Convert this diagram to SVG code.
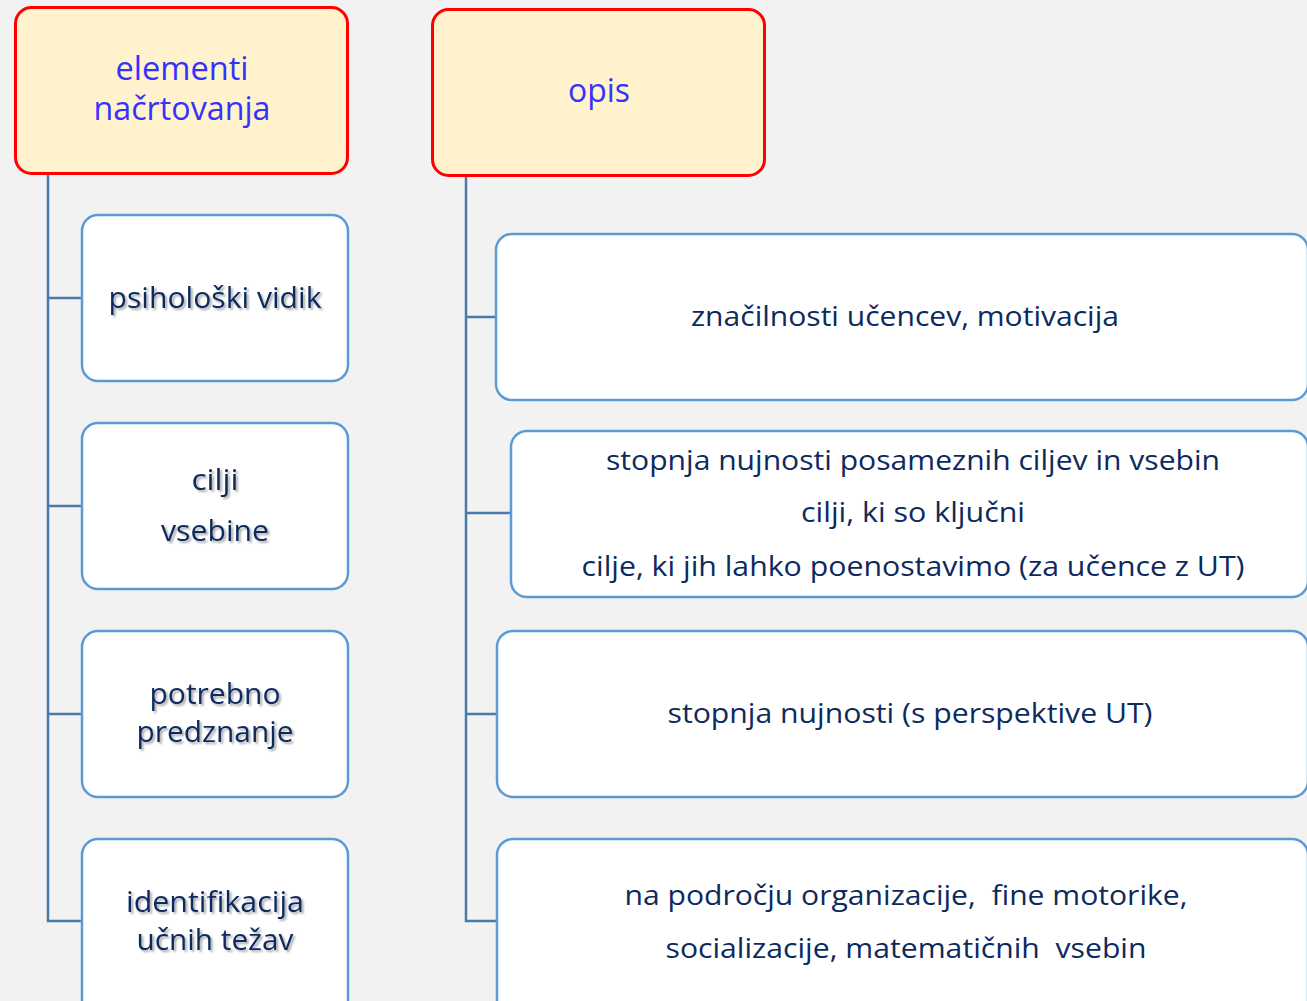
<svg xmlns="http://www.w3.org/2000/svg" width="1307" height="1001" viewBox="0 0 1307 1001">
<defs>
<style>
.hdr{fill:#fff2cc;stroke:#ff0000;stroke-width:3}
.box{fill:#ffffff;stroke:#5b9bd5;stroke-width:2.5}
.conn{fill:none;stroke:#4a7aab;stroke-width:2.5}
.ht{font-family:"Open Sans","Noto Sans",sans-serif;font-size:32px;fill:#3333ff;text-anchor:middle}
.lt{font-family:"Open Sans","Noto Sans",sans-serif;font-size:29px;fill:#0d2a5e;text-anchor:middle;filter:url(#sh)}
.rt{font-family:"Open Sans","Noto Sans",sans-serif;font-size:28px;fill:#0d2a5e;text-anchor:middle}
</style>
<filter id="sh" x="-10%" y="-30%" width="120%" height="160%">
<feGaussianBlur in="SourceAlpha" stdDeviation="1.2"/>
<feOffset dx="2" dy="2" result="b"/>
<feComponentTransfer><feFuncA type="linear" slope="0.35"/></feComponentTransfer>
<feMerge><feMergeNode/><feMergeNode in="SourceGraphic"/></feMerge>
</filter>
</defs>
<rect width="1307" height="1001" fill="#f2f2f2"/>
<g id="connectors">
<path class="conn" d="M48,173 V921 H82 M48,298 H82 M48,506 H82 M48,714 H82"/>
<path class="conn" d="M466,175 V921 H497 M466,317 H496 M466,513 H511 M466,714 H497"/>
</g>
<g id="n-elementi">
<rect class="hdr" x="15.5" y="7.5" width="332" height="166" rx="16"/>
<text class="ht" x="182" y="80" textLength="133" lengthAdjust="spacingAndGlyphs">elementi</text>
<text class="ht" x="182" y="120" textLength="177" lengthAdjust="spacingAndGlyphs">načrtovanja</text>
</g>
<g id="n-opis">
<rect class="hdr" x="432.5" y="9.5" width="332" height="166" rx="16"/>
<text class="ht" x="599" y="102" textLength="62" lengthAdjust="spacingAndGlyphs">opis</text>
</g>
<g id="n-psiholoski">
<rect class="box" x="82" y="215" width="266" height="166" rx="16"/>
<text class="lt" x="215" y="308" textLength="213" lengthAdjust="spacingAndGlyphs">psihološki vidik</text>
</g>
<g id="n-cilji">
<rect class="box" x="82" y="423" width="266" height="166" rx="16"/>
<text class="lt" x="215" y="490" textLength="47" lengthAdjust="spacingAndGlyphs">cilji</text>
<text class="lt" x="215" y="541" textLength="108" lengthAdjust="spacingAndGlyphs">vsebine</text>
</g>
<g id="n-potrebno">
<rect class="box" x="82" y="631" width="266" height="166" rx="16"/>
<text class="lt" x="215" y="704" textLength="131" lengthAdjust="spacingAndGlyphs">potrebno</text>
<text class="lt" x="215" y="742" textLength="157" lengthAdjust="spacingAndGlyphs">predznanje</text>
</g>
<g id="n-identifikacija">
<rect class="box" x="82" y="839" width="266" height="180" rx="16"/>
<text class="lt" x="215" y="912" textLength="178" lengthAdjust="spacingAndGlyphs">identifikacija</text>
<text class="lt" x="215" y="950" textLength="157" lengthAdjust="spacingAndGlyphs">učnih težav</text>
</g>
<g id="n-opis1">
<rect class="box" x="496" y="234" width="812" height="166" rx="16"/>
<text class="rt" x="905" y="326" textLength="428" lengthAdjust="spacingAndGlyphs">značilnosti učencev, motivacija</text>
</g>
<g id="n-opis2">
<rect class="box" x="511" y="431" width="797" height="166" rx="16"/>
<text class="rt" x="913" y="470" textLength="614" lengthAdjust="spacingAndGlyphs">stopnja nujnosti posameznih ciljev in vsebin</text>
<text class="rt" x="913" y="522" textLength="224" lengthAdjust="spacingAndGlyphs">cilji, ki so ključni</text>
<text class="rt" x="913" y="576" textLength="663" lengthAdjust="spacingAndGlyphs">cilje, ki jih lahko poenostavimo (za učence z UT)</text>
</g>
<g id="n-opis3">
<rect class="box" x="497" y="631" width="811" height="166" rx="16"/>
<text class="rt" x="910" y="723" textLength="485" lengthAdjust="spacingAndGlyphs">stopnja nujnosti (s perspektive UT)</text>
</g>
<g id="n-opis4">
<rect class="box" x="497" y="839" width="811" height="180" rx="16"/>
<text class="rt" x="906" y="905" textLength="563" lengthAdjust="spacingAndGlyphs" xml:space="preserve">na področju organizacije,  fine motorike,</text>
<text class="rt" x="906" y="958" textLength="481" lengthAdjust="spacingAndGlyphs" xml:space="preserve">socializacije, matematičnih  vsebin</text>
</g>
</svg>
